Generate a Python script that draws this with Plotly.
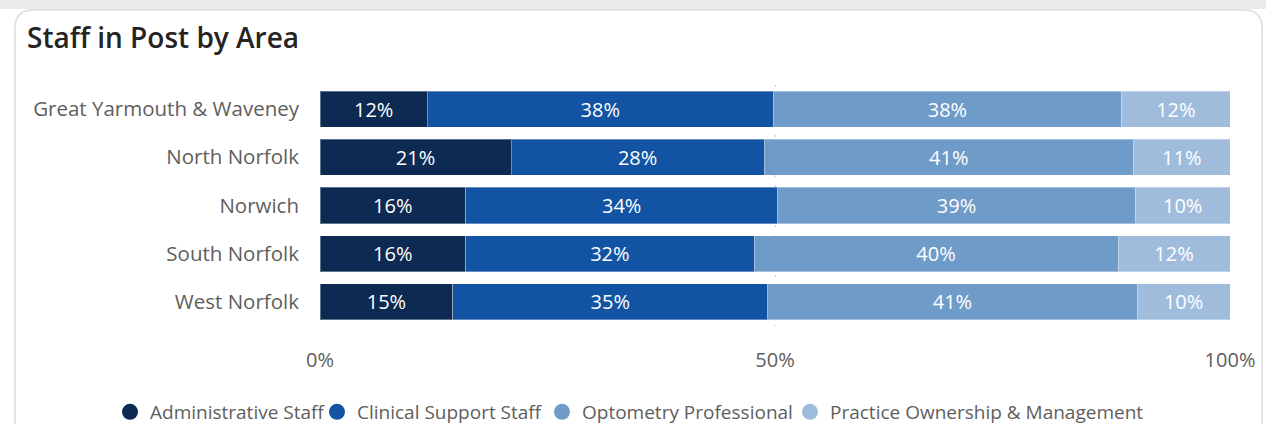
import plotly.graph_objects as go

areas = ["Great Yarmouth & Waveney", "North Norfolk", "Norwich", "South Norfolk", "West Norfolk"]
admin = [11.8, 21.0, 16.0, 16.0, 14.6]
clinical = [38.0, 27.8, 34.3, 31.7, 34.6]
optometry = [38.3, 40.6, 39.3, 40.0, 40.6]
practice = [11.9, 10.6, 10.4, 12.3, 10.2]
x_ticks = [0, 50, 100]
x_tick_text = ["0%", "50%", "100%"]

series = [
    ("Administrative Staff", admin, "#0d2a52"),
    ("Clinical Support Staff", clinical, "#1254a3"),
    ("Optometry Professional", optometry, "#6f9bc9"),
    ("Practice Ownership & Management", practice, "#a0bcdc"),
]
legend_ids = ["legend", "legend2", "legend3", "legend4"]
legend_left_px = [110, 317, 542, 790]

W, H = 1266, 424
ml, mr, mt, mb = 320, 36, 85, 98
pw, ph = W - ml - mr, H - mt - mb

def px_x(p):
    return (p - ml) / pw

def px_y(p):
    return (H - mb - p) / ph

fig = go.Figure()
for name, vals, col in series:
    fig.add_trace(go.Bar(
        y=areas, x=vals, orientation="h", name=name,
        marker=dict(color=col, line=dict(color="rgba(255,255,255,0.35)", width=1)),
        text=vals, texttemplate="%{x:.0f}%", textposition="inside",
        insidetextanchor="middle",
        textfont=dict(color="white", size=20, family="Open Sans"),
        showlegend=False,
    ))
for (name, vals, col), lid in zip(series, legend_ids):
    fig.add_trace(go.Scatter(
        x=[None], y=[None], mode="markers", name=name, legend=lid,
        marker=dict(symbol="circle", size=18, color=col),
        showlegend=True,
    ))

legend_common = dict(orientation="h", xref="container", yref="container",
                     xanchor="left", y=1 - 412 / H, yanchor="middle",
                     font=dict(size=19, color="#605e5c"), bgcolor="rgba(0,0,0,0)")
legends = {lid: dict(legend_common, x=lx / W) for lid, lx in zip(legend_ids, legend_left_px)}

fig.update_layout(
    width=W, height=H,
    margin=dict(l=ml, r=mr, t=mt, b=mb, autoexpand=False),
    paper_bgcolor="white", plot_bgcolor="white",
    barmode="stack", bargap=0.25,
    font=dict(family="Open Sans", color="#605e5c"),
    title=dict(text="Staff in Post by Area", x=27 / W, xanchor="left",
               y=1 - 38 / H, yanchor="middle",
               font=dict(family="Open Sans", size=28, color="#252423", weight=600)),
    xaxis=dict(range=[0, 100], tickvals=x_ticks, ticktext=x_tick_text,
               showgrid=True, gridcolor="#c8c8c8", griddash="2px,8px", gridwidth=1,
               zeroline=False, showline=False, ticklabelstandoff=20,
               tickfont=dict(size=20, color="#605e5c")),
    yaxis=dict(autorange="reversed", showgrid=False, ticklabelstandoff=20,
               tickfont=dict(size=20.5, color="#605e5c")),
    shapes=[
        dict(type="rect", xref="paper", yref="paper", x0=px_x(0), x1=px_x(W),
             y0=px_y(9), y1=px_y(0), fillcolor="#ebebeb", line=dict(width=0), layer="below"),
        dict(type="path", xref="paper", yref="paper",
             path=(f"M {px_x(15)},{px_y(H+5)} L {px_x(15)},{px_y(28)} "
                   f"Q {px_x(15)},{px_y(10)} {px_x(33)},{px_y(10)} "
                   f"L {px_x(1244)},{px_y(10)} Q {px_x(1262)},{px_y(10)} {px_x(1262)},{px_y(28)} "
                   f"L {px_x(1262)},{px_y(H+5)}"),
             line=dict(color="#e3e3e3", width=2), layer="below"),
    ],
    **legends,
)

fig.write_html("out.html")
